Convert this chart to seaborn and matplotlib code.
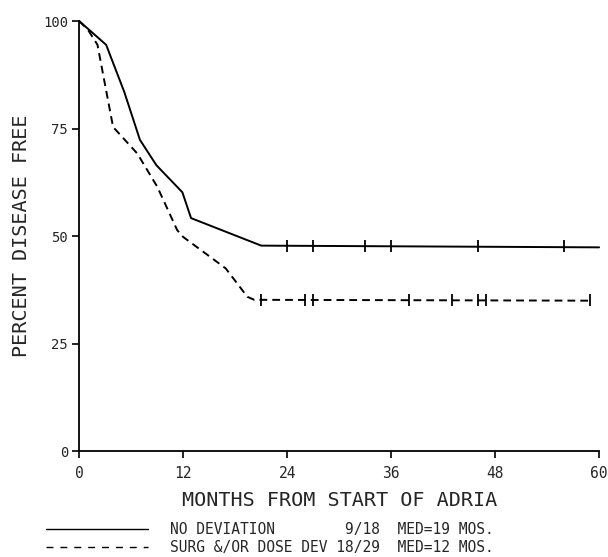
import matplotlib
matplotlib.use("Agg")
import matplotlib.pyplot as plt
from matplotlib.lines import Line2D
import pandas as pd
import seaborn as sns

# curve vertices (months, percent disease free)
no_dev_months = [0, 3.1, 5.2, 7.0, 8.9, 11.9, 12.9, 21.0, 60]
no_dev_pct = [100, 94.5, 83.5, 72.4, 66.5, 60.2, 54.2, 47.8, 47.4]
no_dev_censored = [24, 27, 33, 36, 46, 56]
no_dev_plateau = 47.6

dev_months = [0, 1.0, 2.1, 3.9, 6.7, 9.0, 11.3, 12.0, 15.9, 16.9, 19.4, 20.2, 59]
dev_pct = [100, 98, 94.5, 75.4, 69.2, 61.5, 51.4, 49.8, 44.0, 42.5, 35.9, 35.2, 35.0]
dev_censored = [21, 26, 27, 38, 43, 46, 47, 59]
dev_plateau = 35.1

x_ticks = [0, 12, 24, 36, 48, 60]
y_ticks = [0, 25, 50, 75, 100]

legend_rows = [
    ("NO DEVIATION", "9/18", "MED=19 MOS."),
    ("SURG &/OR DOSE DEV", "18/29", "MED=12 MOS."),
]

sns.set_style("ticks")
plt.rcParams["font.family"] = ["DejaVu Sans Mono", "DejaVu Sans"]

curves = pd.concat([
    pd.DataFrame({"month": no_dev_months, "pct": no_dev_pct, "group": "solid"}),
    pd.DataFrame({"month": dev_months, "pct": dev_pct, "group": "dashed"}),
])
ticks = pd.concat([
    pd.DataFrame({"month": no_dev_censored, "pct": no_dev_plateau}),
    pd.DataFrame({"month": dev_censored, "pct": dev_plateau}),
])

fig = plt.figure(figsize=(6.08, 5.57), dpi=100)
ax = fig.add_axes([0.1304, 0.190, 0.855, 0.772])

sns.lineplot(data=curves, x="month", y="pct", style="group", color="black",
             dashes={"solid": "", "dashed": (4, 2.6)}, sort=False,
             estimator=None, linewidth=1.4, legend=False, ax=ax, clip_on=False)
sns.scatterplot(data=ticks, x="month", y="pct", marker="|", s=85, linewidth=1.3,
                color="black", ax=ax, clip_on=False)

ax.set_xlim(0, 60)
ax.set_ylim(0, 100)
ax.set_xticks(x_ticks)
ax.set_yticks(y_ticks)
ax.set_xticklabels([str(v) for v in x_ticks], fontsize=10.5)
ax.set_yticklabels([str(v) for v in y_ticks], fontsize=10)
ax.tick_params(axis="both", direction="out", length=5, width=1.2, color="black")
ax.tick_params(axis="x", pad=5.5)
ax.tick_params(axis="y", pad=3)
sns.despine(ax=ax)
for side in ["left", "bottom"]:
    ax.spines[side].set_linewidth(1.3)
    ax.spines[side].set_color("black")

ax.set_xlabel("MONTHS FROM START OF ADRIA", fontsize=14.5, va="top")
ax.xaxis.set_label_coords(0.5, -0.092)
ax.set_ylabel("PERCENT DISEASE FREE", fontsize=14.5)
ax.yaxis.set_label_coords(-0.092, 0.5)

handles = [
    Line2D([], [], color="black", lw=1.0),
    Line2D([], [], color="black", lw=1.0, ls=(0, (5, 5))),
]
labels = [f"{a:<18} {b:>5}  {c}" for a, b, c in legend_rows]
fig.legend(handles, labels, loc="upper left", bbox_to_anchor=(46 / 608, 1 - 522 / 557),
           frameon=False, borderpad=0, borderaxespad=0, handlelength=7.0,
           handletextpad=1.5, labelspacing=0.18, prop={"size": 10.5})

plt.savefig("out.png", dpi=100)
plt.close()
